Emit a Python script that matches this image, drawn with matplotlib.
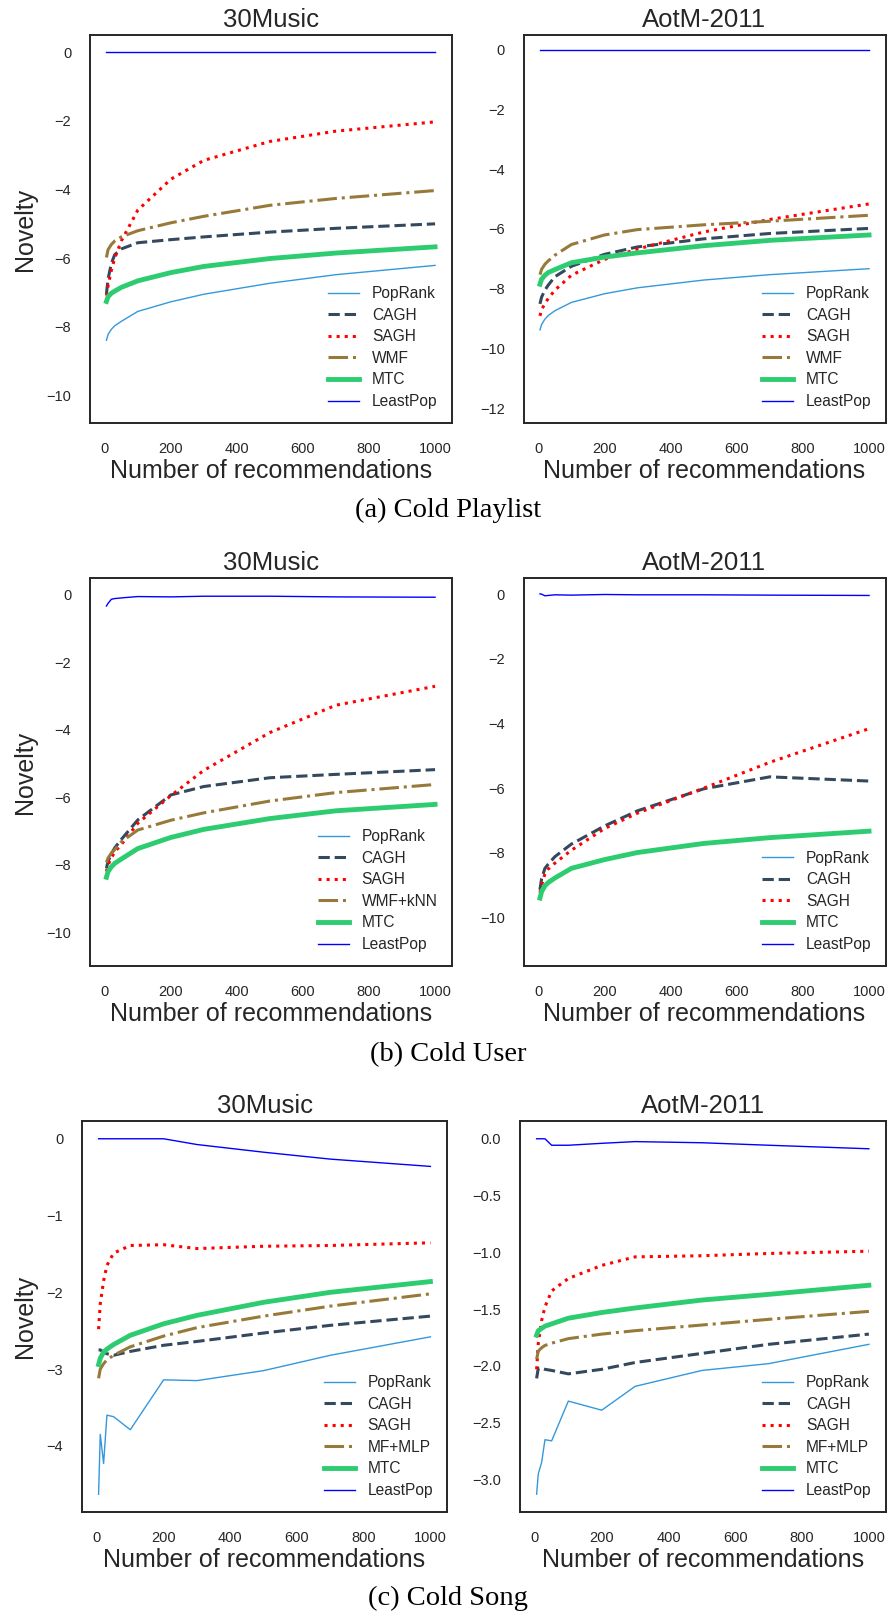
import matplotlib
matplotlib.use("Agg")
import matplotlib.pyplot as plt

plt.rcParams['font.family'] = ['Liberation Sans', 'DejaVu Sans']

# ---------------- data ----------------
n_recs = [5, 10, 20, 30, 50, 100, 200, 300, 500, 700, 1000]

# (a) Cold Playlist - 30Music
cp30_poprank = [-8.39, -8.22, -8.07, -7.97, -7.84, -7.55, -7.27, -7.05, -6.73, -6.48, -6.21]
cp30_cagh = [-7.04, -6.60, -6.15, -5.90, -5.73, -5.55, -5.46, -5.38, -5.24, -5.13, -5.00]
cp30_sagh = [-7.09, -6.80, -6.35, -6.00, -5.50, -4.60, -3.70, -3.15, -2.60, -2.30, -2.03]
cp30_wmf = [-5.98, -5.75, -5.60, -5.50, -5.38, -5.20, -4.97, -4.78, -4.46, -4.26, -4.03]
cp30_mtc = [-7.26, -7.12, -7.02, -6.96, -6.85, -6.66, -6.42, -6.24, -6.01, -5.85, -5.67]
cp30_leastpop = [0, 0, 0, 0, 0, 0, 0, 0, 0, 0, 0]

# (a) Cold Playlist - AotM-2011
cpA_poprank = [-9.38, -9.20, -9.02, -8.90, -8.74, -8.46, -8.17, -7.97, -7.71, -7.53, -7.33]
cpA_cagh = [-8.51, -8.28, -8.05, -7.88, -7.60, -7.25, -6.85, -6.60, -6.33, -6.15, -5.98]
cpA_sagh = [-8.91, -8.70, -8.50, -8.33, -8.05, -7.55, -7.02, -6.67, -6.10, -5.68, -5.16]
cpA_wmf = [-7.53, -7.35, -7.18, -7.07, -6.88, -6.52, -6.20, -6.02, -5.86, -5.74, -5.54]
cpA_mtc = [-7.85, -7.68, -7.55, -7.46, -7.36, -7.13, -6.94, -6.80, -6.56, -6.38, -6.20]
cpA_leastpop = [0, 0, 0, 0, 0, 0, 0, 0, 0, 0, 0]

# (b) Cold User - 30Music
cu30_poprank = []
cu30_cagh = [-8.10, -7.90, -7.68, -7.50, -7.25, -6.67, -5.93, -5.68, -5.42, -5.32, -5.18]
cu30_sagh = [-8.20, -8.00, -7.80, -7.62, -7.40, -6.77, -5.95, -5.20, -4.08, -3.27, -2.71]
cu30_wmfknn = [-7.93, -7.80, -7.65, -7.55, -7.32, -6.97, -6.68, -6.46, -6.11, -5.86, -5.62]
cu30_mtc = [-8.37, -8.20, -8.06, -7.96, -7.83, -7.52, -7.19, -6.95, -6.63, -6.40, -6.21]
cu30_leastpop = [-0.33, -0.25, -0.13, -0.11, -0.09, -0.05, -0.06, -0.04, -0.04, -0.06, -0.07]

# (b) Cold User - AotM-2011
cuA_poprank = []
cuA_cagh = [-9.14, -8.80, -8.48, -8.35, -8.12, -7.73, -7.17, -6.70, -6.02, -5.65, -5.78]
cuA_sagh = [-9.23, -9.00, -8.65, -8.50, -8.32, -7.92, -7.25, -6.77, -6.00, -5.20, -4.16]
cuA_mtc = [-9.40, -9.20, -9.02, -8.92, -8.78, -8.48, -8.21, -7.99, -7.71, -7.53, -7.33]
cuA_leastpop = [0.01, 0.0, -0.05, -0.04, -0.02, -0.03, -0.01, -0.02, -0.02, -0.03, -0.04]

# (c) Cold Song - 30Music
cs30_poprank = [-4.63, -3.85, -4.23, -3.60, -3.62, -3.79, -3.14, -3.15, -3.02, -2.82, -2.58]
cs30_cagh = [-2.75, -2.75, -2.78, -2.80, -2.82, -2.77, -2.69, -2.64, -2.53, -2.43, -2.31]
cs30_sagh = [-2.48, -2.15, -1.85, -1.65, -1.49, -1.39, -1.38, -1.43, -1.40, -1.39, -1.355]
cs30_mfmlp = [-3.12, -3.00, -2.93, -2.88, -2.82, -2.71, -2.57, -2.46, -2.31, -2.18, -2.02]
cs30_mtc = [-2.94, -2.86, -2.78, -2.74, -2.68, -2.56, -2.41, -2.30, -2.13, -2.00, -1.86]
cs30_leastpop = [0, 0, 0, 0, 0, 0, 0, -0.075, -0.175, -0.265, -0.36]

# (c) Cold Song - AotM-2011
csA_poprank = [-3.13, -2.95, -2.85, -2.65, -2.66, -2.31, -2.39, -2.18, -2.04, -1.98, -1.81]
csA_cagh = [-2.11, -2.02, -2.02, -2.03, -2.04, -2.07, -2.03, -1.97, -1.89, -1.81, -1.72]
csA_sagh = [-2.03, -1.80, -1.60, -1.48, -1.34, -1.23, -1.115, -1.04, -1.03, -1.01, -0.99]
csA_mfmlp = [-1.94, -1.87, -1.84, -1.82, -1.80, -1.76, -1.72, -1.69, -1.64, -1.59, -1.52]
csA_mtc = [-1.73, -1.69, -1.67, -1.65, -1.63, -1.58, -1.53, -1.49, -1.42, -1.37, -1.29]
csA_leastpop = [0.0, 0.0, 0.0, 0.0, -0.057, -0.057, -0.04, -0.025, -0.035, -0.057, -0.088]

dataset_titles = ["30Music", "AotM-2011"]
captions = ["(a) Cold Playlist", "(b) Cold User", "(c) Cold Song"]
x_ticks = [0, 200, 400, 600, 800, 1000]

# ---------------- styles ----------------
STYLE = {
    "PopRank":  dict(color="#3498db", ls="-", lw=1.0),
    "CAGH":     dict(color="#34495e", ls="--", lw=2.2),
    "SAGH":     dict(color="#ff0000", ls=":", lw=2.2),
    "WMF":      dict(color="#977a3a", ls="-.", lw=2.2),
    "WMF+kNN":  dict(color="#977a3a", ls="-.", lw=2.2),
    "MF+MLP":   dict(color="#977a3a", ls="-.", lw=2.2),
    "MTC":      dict(color="#2ecc71", ls="-", lw=3.5),
    "LeastPop": dict(color="#0000ff", ls="-", lw=1.0),
}

panels = [
    # row, col, series, ylim, yticks
    (0, 0, [("PopRank", cp30_poprank), ("CAGH", cp30_cagh), ("SAGH", cp30_sagh),
            ("WMF", cp30_wmf), ("MTC", cp30_mtc), ("LeastPop", cp30_leastpop)],
     (-10.8, 0.5), [0, -2, -4, -6, -8, -10]),
    (0, 1, [("PopRank", cpA_poprank), ("CAGH", cpA_cagh), ("SAGH", cpA_sagh),
            ("WMF", cpA_wmf), ("MTC", cpA_mtc), ("LeastPop", cpA_leastpop)],
     (-12.5, 0.5), [0, -2, -4, -6, -8, -10, -12]),
    (1, 0, [("PopRank", cu30_poprank), ("CAGH", cu30_cagh), ("SAGH", cu30_sagh),
            ("WMF+kNN", cu30_wmfknn), ("MTC", cu30_mtc), ("LeastPop", cu30_leastpop)],
     (-11.0, 0.5), [0, -2, -4, -6, -8, -10]),
    (1, 1, [("PopRank", cuA_poprank), ("CAGH", cuA_cagh), ("SAGH", cuA_sagh),
            ("MTC", cuA_mtc), ("LeastPop", cuA_leastpop)],
     (-11.5, 0.5), [0, -2, -4, -6, -8, -10]),
    (2, 0, [("PopRank", cs30_poprank), ("CAGH", cs30_cagh), ("SAGH", cs30_sagh),
            ("MF+MLP", cs30_mfmlp), ("MTC", cs30_mtc), ("LeastPop", cs30_leastpop)],
     None, [0, -1, -2, -3, -4]),
    (2, 1, [("PopRank", csA_poprank), ("CAGH", csA_cagh), ("SAGH", csA_sagh),
            ("MF+MLP", csA_mfmlp), ("MTC", csA_mtc), ("LeastPop", csA_leastpop)],
     None, [0.0, -0.5, -1.0, -1.5, -2.0, -2.5, -3.0]),
]

# ---------------- layout (pixels) ----------------
W, H = 889, 1619
fig = plt.figure(figsize=(W / 100, H / 100), dpi=100)

row_tb = [(35, 423), (578, 966), (1121, 1512)]
col_lr = {0: [(90, 451.5), (90, 451.5), (82, 447)],
          1: [(523.5, 885.5), (523.5, 885.5), (520, 885.5)]}
caption_y = [510, 1055, 1598]

TXT = "#262626"

for row, col, series, ylim, yticks in panels:
    t, b = row_tb[row]
    l, r = col_lr[col][row]
    ax = fig.add_axes([l / W, 1 - b / H, (r - l) / W, (b - t) / H])
    for name, vals in series:
        st = STYLE[name]
        xs = n_recs[:len(vals)]
        ax.plot(xs, vals, label=name, color=st["color"], linestyle=st["ls"],
                linewidth=st["lw"])
    if ylim is not None:
        ax.set_ylim(*ylim)
    ax.set_yticks(yticks)
    ax.set_xticks(x_ticks)
    ax.tick_params(length=0, pad=13.5, labelsize=10.5, colors=TXT)
    for sp in ax.spines.values():
        sp.set_color(TXT)
        sp.set_linewidth(1.4)
    ax.set_title(dataset_titles[col], fontsize=18.5, color=TXT, pad=5.8)
    ax.set_xlabel("Number of recommendations", fontsize=18, color=TXT)
    ax.xaxis.set_label_coords(0.5, -48 / (b - t))
    ax.xaxis.label.set_va("center")
    if col == 0:
        fig.text(25 / W, 1 - ((t + b) / 2) / H, "Novelty", rotation=90,
                 ha="center", va="center", fontsize=18, color=TXT)
    leg = ax.legend(loc="lower right", frameon=False, fontsize=11.2,
                    handlelength=2.0, handletextpad=0.8, labelspacing=0.42)
    for txt in leg.get_texts():
        txt.set_color(TXT)

for cap, cy in zip(captions, caption_y):
    fig.text(448 / W, 1 - cy / H, cap, ha="center", va="center",
             fontsize=20.5, family=["Liberation Serif", "DejaVu Serif"], color="black")

fig.savefig("out.png", dpi=100, facecolor="white")
